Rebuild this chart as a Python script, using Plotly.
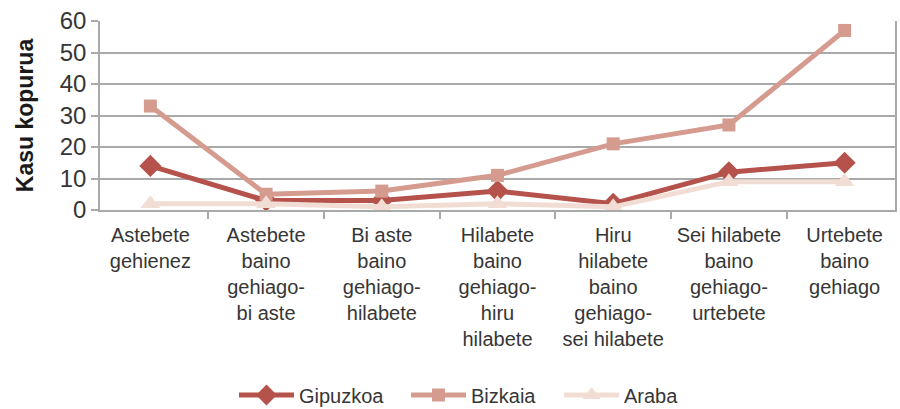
import plotly.graph_objects as go

categories = [
    "Astebete<br>gehienez",
    "Astebete<br>baino<br>gehiago-<br>bi aste",
    "Bi aste<br>baino<br>gehiago-<br>hilabete",
    "Hilabete<br>baino<br>gehiago-<br>hiru<br>hilabete",
    "Hiru<br>hilabete<br>baino<br>gehiago-<br>sei hilabete",
    "Sei hilabete<br>baino<br>gehiago-<br>urtebete",
    "Urtebete<br>baino<br>gehiago",
]
gipuzkoa = [14, 3, 3, 6, 2, 12, 15]
bizkaia = [33, 5, 6, 11, 21, 27, 57]
araba = [2, 2, 1, 2, 1, 9, 9]

y_ticks = [0, 10, 20, 30, 40, 50, 60]

FONT = "Liberation Sans"
TEXT = "#363636"
GRID = "#a9a9a9"

# name, values, colour, marker symbol, marker size, legend id, legend left edge (px)
series = [
    ("Gipuzkoa", gipuzkoa, "#b5524b", "diamond", 17, "legend", 234),
    ("Bizkaia", bizkaia, "#d59b8e", "square", 13, "legend2", 406),
    ("Araba", araba, "#f2ddd5", "triangle-up", 17, "legend3", 559),
]

W, H = 900, 409

fig = go.Figure()
legend_layouts = {}
for name, vals, color, symbol, size, leg, left in series:
    fig.add_trace(go.Scatter(
        x=categories, y=vals, name=name, mode="lines+markers",
        line=dict(color=color, width=5),
        marker=dict(symbol=symbol, size=size, color=color, line=dict(width=0)),
        legend=leg,
    ))
    legend_layouts[leg] = dict(
        orientation="h",
        x=left / W, xanchor="left", xref="container",
        y=1 - 395 / H, yanchor="middle", yref="container",
        font=dict(family=FONT, size=20, color=TEXT),
        itemwidth=55,
        bgcolor="rgba(0,0,0,0)",
    )

fig.update_layout(
    width=W, height=H,
    margin=dict(l=100, r=3, t=21, b=199),
    paper_bgcolor="white", plot_bgcolor="white",
    font=dict(family=FONT, size=20, color=TEXT),
    showlegend=True,
    **legend_layouts,
    xaxis=dict(
        type="category",
        showgrid=False,
        showline=True, linecolor=GRID, linewidth=1.5,
        ticks="outside", tickson="boundaries", ticklen=7,
        tickcolor=GRID, tickwidth=1.5,
        tickfont=dict(family=FONT, size=20, color=TEXT),
        ticklabelstandoff=6,
    ),
    yaxis=dict(
        range=[0, 60], tickvals=y_ticks,
        showgrid=True, gridcolor=GRID, gridwidth=1.5,
        showline=True, linecolor=GRID, linewidth=1.5, mirror=True,
        ticks="outside", ticklen=7, tickcolor=GRID, tickwidth=1.5,
        tickfont=dict(family=FONT, size=24, color=TEXT),
        zeroline=False,
        title=dict(text="<b>Kasu kopurua</b>", font=dict(family=FONT, size=23, color="#1a1a1a"), standoff=20),
    ),
)

fig.write_html("out.html")
